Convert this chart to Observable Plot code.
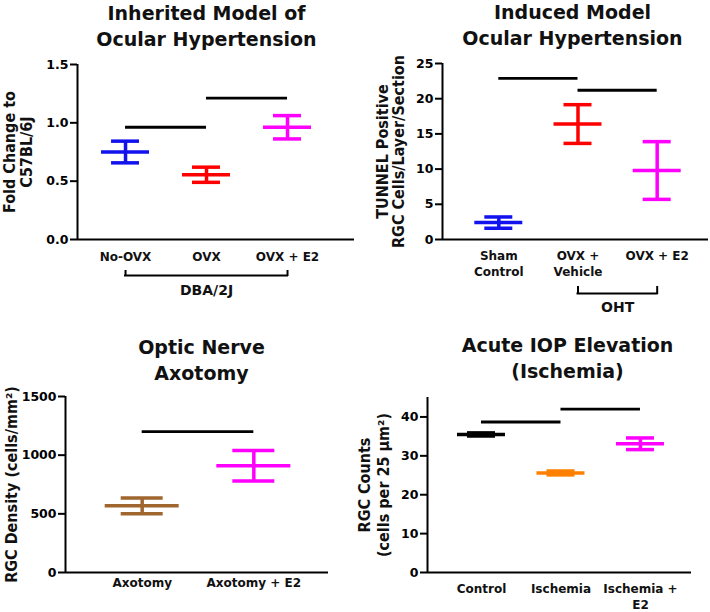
<!DOCTYPE html>
<html>
<head>
<meta charset="utf-8">
<script src="https://cdn.jsdelivr.net/npm/d3@7"></script>
<script src="https://cdn.jsdelivr.net/npm/@observablehq/plot@0.6"></script>
<style>
  body { margin: 0; background: #fff; }
  #fig { position: relative; width: 710px; height: 612px; background: #fff; }
  #fig svg { position: absolute; overflow: visible; background: transparent; font-family: "DejaVu Sans", sans-serif; font-weight: bold; }
</style>
</head>
<body>
<div id="fig"></div>
<script>
// ---------- Panel A: Inherited Model of Ocular Hypertension ----------
const inheritedTitle = "Inherited Model of\nOcular Hypertension";
const inheritedYLabel = "Fold Change to\nC57BL/6J";
const inheritedGroups = ["No-OVX", "OVX", "OVX + E2"];
const inheritedMean = [0.75, 0.555, 0.962];
const inheritedSem = [0.093, 0.065, 0.10];
const inheritedColors = ["#1212ee", "#ff0000", "#ff00ff"];
const inheritedTicks = [0, 0.5, 1.0, 1.5];
const inheritedSigFrom = [0, 1];
const inheritedSigTo = [1, 2];
const inheritedSigY = [0.962, 1.211];
const inheritedBracketFrom = [0];
const inheritedBracketTo = [2];
const inheritedBracketLabel = ["DBA/2J"];

// ---------- Panel B: Induced Model Ocular Hypertension ----------
const inducedTitle = "Induced Model\nOcular Hypertension";
const inducedYLabel = "TUNNEL Positive\nRGC Cells/Layer/Section";
const inducedGroups = ["Sham\nControl", "OVX +\nVehicle", "OVX + E2"];
const inducedMean = [2.4, 16.4, 9.8];
const inducedSem = [0.8, 2.75, 4.1];
const inducedColors = ["#1212ee", "#ff0000", "#ff00ff"];
const inducedTicks = [0, 5, 10, 15, 20, 25];
const inducedSigFrom = [0, 1];
const inducedSigTo = [1, 2];
const inducedSigY = [22.9, 21.2];
const inducedBracketFrom = [1];
const inducedBracketTo = [2];
const inducedBracketLabel = ["OHT"];

// ---------- Panel C: Optic Nerve Axotomy ----------
const axotomyTitle = "Optic Nerve\nAxotomy";
const axotomyYLabel = "RGC Density (cells/mm²)";
const axotomyGroups = ["Axotomy", "Axotomy + E2"];
const axotomyMean = [568, 909];
const axotomySem = [68, 130];
const axotomyColors = ["#a0662f", "#ff00ff"];
const axotomyTicks = [0, 500, 1000, 1500];
const axotomySigFrom = [0];
const axotomySigTo = [1];
const axotomySigY = [1200];

// ---------- Panel D: Acute IOP Elevation (Ischemia) ----------
const ischemiaTitle = "Acute IOP Elevation\n(Ischemia)";
const ischemiaYLabel = "RGC Counts\n(cells per 25 μm²)";
const ischemiaGroups = ["Control", "Ischemia", "Ischemia +\nE2"];
const ischemiaMean = [35.5, 25.6, 33.1];
const ischemiaSem = [0.4, 0.5, 1.5];
const ischemiaColors = ["#000000", "#ff8000", "#ff00ff"];
const ischemiaTicks = [0, 10, 20, 30, 40];
const ischemiaSigFrom = [0, 1];
const ischemiaSigTo = [1, 2];
const ischemiaSigY = [38.7, 42.0];

function panel(cfg) {
  const rows = cfg.groups.map((g, i) => ({
    i, g, mean: cfg.mean[i], lo: cfg.mean[i] - cfg.sem[i], hi: cfg.mean[i] + cfg.sem[i], color: cfg.colors[i]
  }));
  const sig = cfg.sigFrom.map((f, k) => ({from: f, to: cfg.sigTo[k], y: cfg.sigY[k]}));
  const brackets = (cfg.bracketFrom || []).map((f, k) => ({from: f, to: cfg.bracketTo[k], label: cfg.bracketLabel[k]}));
  const yMin = cfg.yDomain[0];
  const xMin = cfg.xDomain[0];
  const sw = 3.5;
  const marks = [
    Plot.axisY({ticks: cfg.ticks, tickFormat: cfg.tickFormat, tickSize: 7, tickPadding: 2, strokeWidth: 2, label: null, fontSize: 12.5}),
    Plot.ruleX([xMin], {strokeWidth: 2}),
    Plot.ruleY([yMin], {strokeWidth: 2}),
    Plot.ruleY(sig, {x1: "from", x2: "to", y: "y", strokeWidth: 2.8}),
    Plot.ruleX(rows, {x: "i", y1: "lo", y2: "hi", stroke: "color", strokeWidth: sw}),
    Plot.ruleY(rows, {x1: "i", x2: "i", y: "hi", stroke: "color", strokeWidth: sw, insetLeft: -cfg.capHalf, insetRight: -cfg.capHalf}),
    Plot.ruleY(rows, {x1: "i", x2: "i", y: "lo", stroke: "color", strokeWidth: sw, insetLeft: -cfg.capHalf, insetRight: -cfg.capHalf}),
    Plot.ruleY(rows, {x1: "i", x2: "i", y: "mean", stroke: "color", strokeWidth: sw, insetLeft: -cfg.meanHalf, insetRight: -cfg.meanHalf}),
    Plot.text(rows, {x: "i", text: "g", frameAnchor: "bottom", lineAnchor: "top", dy: cfg.labelDy, lineHeight: cfg.labelLH, fontSize: 12, fill: "#111"}),
    Plot.text([cfg.ylabel], {frameAnchor: "left", textAnchor: "middle", rotate: -90, dx: cfg.ylabelDx, fontSize: 16, fontWeight: "bold", fontFamily: "'DejaVu Sans Condensed', 'Liberation Sans', sans-serif", lineHeight: cfg.ylabelLH, lineAnchor: "middle", fill: "#111"}),
    Plot.text([cfg.title], {frameAnchor: "top", lineAnchor: "bottom", dx: cfg.titleDx, dy: cfg.titleDy, fontSize: 19, lineHeight: 1.33, fill: "#111"})
  ];
  if (brackets.length) {
    marks.push(
      Plot.ruleY(brackets, {x1: "from", x2: "to", y: () => yMin, dy: cfg.bracketDy, strokeWidth: 2, strokeLinecap: "square"}),
      Plot.ruleX(brackets.flatMap(b => [b.from, b.to]), {y1: yMin, y2: yMin, insetBottom: cfg.bracketTick, dy: cfg.bracketDy, strokeWidth: 2, strokeLinecap: "square"}),
      Plot.text(brackets, {x: b => (b.from + b.to) / 2, y: () => yMin, text: "label", dy: cfg.bracketLabelDy, fontSize: 14, lineAnchor: "middle", fill: "#111"})
    );
  }
  const chart = Plot.plot({
    width: 355, height: 306,
    marginLeft: cfg.margins[0], marginRight: cfg.margins[1], marginTop: cfg.margins[2], marginBottom: cfg.margins[3],
    x: {domain: cfg.xDomain, axis: null},
    y: {domain: cfg.yDomain},
    style: {fontSize: "12px", fontFamily: "DejaVu Sans, sans-serif", fontWeight: "bold", background: "transparent", overflow: "visible"},
    marks
  });
  chart.style.left = cfg.left + "px";
  chart.style.top = cfg.top + "px";
  document.getElementById("fig").appendChild(chart);
}

panel({
  left: 0, top: 0, margins: [77, 1, 64, 67],
  xDomain: [-0.593, 2.827], yDomain: [0, 1.5],
  groups: inheritedGroups, mean: inheritedMean, sem: inheritedSem, colors: inheritedColors,
  ticks: inheritedTicks, tickFormat: d3.format(".1f"),
  sigFrom: inheritedSigFrom, sigTo: inheritedSigTo, sigY: inheritedSigY,
  bracketFrom: inheritedBracketFrom, bracketTo: inheritedBracketTo, bracketLabel: inheritedBracketLabel,
  bracketDy: 36, bracketTick: 4, bracketLabelDy: 51,
  capHalf: 14, meanHalf: 24,
  labelDy: 10, labelLH: 1.33,
  ylabel: inheritedYLabel, ylabelDx: -59, ylabelLH: 1.05,
  title: inheritedTitle, titleDx: -9.5, titleDy: -19
});

panel({
  left: 355, top: 0, margins: [87, 2, 63, 67],
  xDomain: [-0.711, 2.648], yDomain: [0, 25],
  groups: inducedGroups, mean: inducedMean, sem: inducedSem, colors: inducedColors,
  ticks: inducedTicks, tickFormat: d3.format("d"),
  sigFrom: inducedSigFrom, sigTo: inducedSigTo, sigY: inducedSigY,
  bracketFrom: inducedBracketFrom, bracketTo: inducedBracketTo, bracketLabel: inducedBracketLabel,
  bracketDy: 54, bracketTick: 6, bracketLabelDy: 68,
  capHalf: 14, meanHalf: 24,
  labelDy: 9.5, labelLH: 1.33,
  ylabel: inducedYLabel, ylabelDx: -52, ylabelLH: 1.04,
  title: inducedTitle, titleDx: -3, titleDy: -19
});

panel({
  left: 0, top: 306, margins: [65, 27, 90, 40],
  xDomain: [-0.687, 1.669], yDomain: [0, 1500],
  groups: axotomyGroups, mean: axotomyMean, sem: axotomySem, colors: axotomyColors,
  ticks: axotomyTicks, tickFormat: d3.format("d"),
  sigFrom: axotomySigFrom, sigTo: axotomySigTo, sigY: axotomySigY,
  capHalf: 21, meanHalf: 37,
  labelDy: 3.5, labelLH: 1.33,
  ylabel: axotomyYLabel, ylabelDx: -54, ylabelLH: 1.1,
  title: axotomyTitle, titleDx: 4.5, titleDy: -17
});

panel({
  left: 355, top: 306, margins: [72, 19, 91, 40],
  xDomain: [-0.679, 2.642], yDomain: [0, 45],
  groups: ischemiaGroups, mean: ischemiaMean, sem: ischemiaSem, colors: ischemiaColors,
  ticks: ischemiaTicks, tickFormat: d3.format("d"),
  sigFrom: ischemiaSigFrom, sigTo: ischemiaSigTo, sigY: ischemiaSigY,
  capHalf: 14, meanHalf: 24,
  labelDy: 8.5, labelLH: 1.38,
  ylabel: ischemiaYLabel, ylabelDx: -54, ylabelLH: 1.2,
  title: ischemiaTitle, titleDx: 8, titleDy: -20
});
</script>
</body>
</html>
